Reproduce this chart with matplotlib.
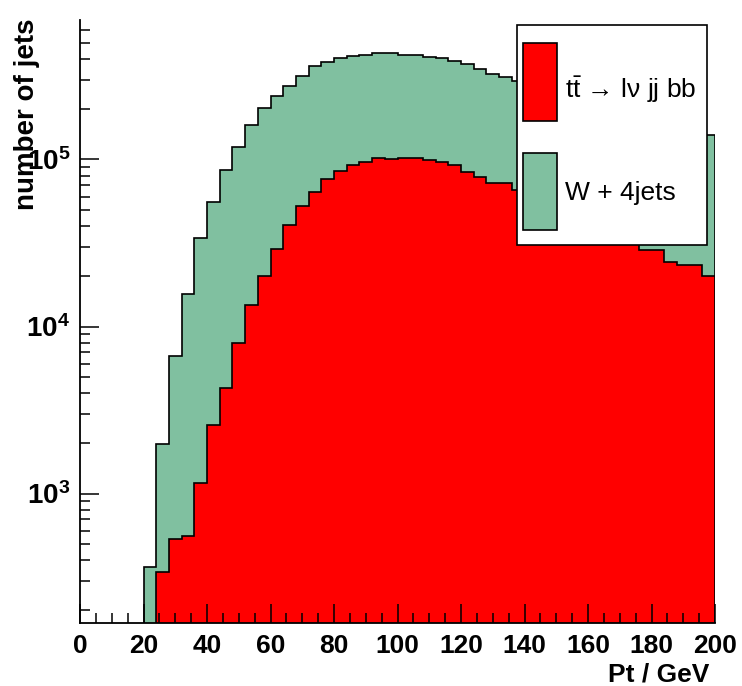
import numpy as np
import matplotlib
matplotlib.use("Agg")
import matplotlib.pyplot as plt
from matplotlib.patches import Rectangle
from matplotlib.ticker import MultipleLocator, LogLocator, FuncFormatter, NullFormatter

# histogram bins (Pt in GeV), 4 GeV wide
bin_edges = np.arange(0, 204, 4)

# t tbar -> l nu jj bb (red)
ttbar = [0, 0, 0, 0, 0, 0, 337, 534, 556, 1160,
         2570, 4270, 7930, 13500, 20100, 29100, 40500, 52900, 64300, 76800,
         85700, 92700, 96200, 101700, 100700, 102500, 102500, 99300, 96200, 92700,
         84500, 78900, 72600, 72600, 65800, 60000, 55000, 50000, 46000, 42000,
         39000, 36000, 33000, 31000, 28700, 28700, 24500, 23300, 23300, 20200]

# W + 4jets (green), stacked on top of ttbar
wjets = [0, 0, 0, 0, 0, 363, 1640, 6120, 15100, 32800,
         52800, 82200, 111000, 146500, 183000, 211000, 235500, 263000, 298700, 308200,
         318300, 324300, 327800, 330300, 331300, 320500, 320500, 313700, 307800, 296300,
         287500, 268100, 253400, 238400, 229200, 220000, 210000, 200000, 189000, 180000,
         171000, 162000, 155000, 147000, 141300, 133300, 130500, 125700, 120700, 119800]

legend_labels = ["t$\\mathrm{\\bar{t}}$ \u2192 l\u03bd jj bb", "W + 4jets"]

red = "#ff0000"
green = "#80c0a0"

plt.rcParams["font.family"] = ["Liberation Sans", "DejaVu Sans"]
plt.rcParams["mathtext.fontset"] = "custom"
plt.rcParams["mathtext.rm"] = "Liberation Sans"
plt.rcParams["mathtext.bf"] = "Liberation Sans:bold"
plt.rcParams["mathtext.it"] = "Liberation Sans:italic"

W, H = 742, 686
fig = plt.figure(figsize=(W / 100, H / 100), dpi=100)


def fx(x):
    return x / W


def fy(y):
    return 1 - y / H


ax = fig.add_axes([fx(80), fy(623), fx(715) - fx(80), fy(20) - fy(623)])

total = np.array(ttbar) + np.array(wjets)
ax.stairs(total, bin_edges, fill=True, color=green, baseline=1, zorder=1)
ax.stairs(total, bin_edges, fill=False, color="black", lw=1.2, baseline=1, zorder=1.2)
ax.stairs(ttbar, bin_edges, fill=True, color=red, baseline=1, zorder=1.4)
ax.stairs(ttbar, bin_edges, fill=False, color="black", lw=1.2, baseline=1, zorder=1.6)

ax.set_yscale("log")
ax.set_xlim(0, 200)
ax.set_ylim(168, 684000)

for s in ["top", "right"]:
    ax.spines[s].set_visible(False)
for s in ["left", "bottom"]:
    ax.spines[s].set_linewidth(1.3)

ax.xaxis.set_major_locator(MultipleLocator(20))
ax.xaxis.set_minor_locator(MultipleLocator(5))
ax.yaxis.set_major_locator(LogLocator(base=10))
ax.yaxis.set_minor_locator(LogLocator(base=10, subs=np.arange(2, 10)))
ax.yaxis.set_minor_formatter(NullFormatter())
ax.yaxis.set_major_formatter(FuncFormatter(lambda v, p: r"$\mathbf{10^{%d}}$" % round(np.log10(v))))

ax.tick_params(which="both", direction="in", width=1.1, color="black")
ax.tick_params(which="major", length=14)
ax.tick_params(which="minor", length=7)
ax.tick_params(axis="x", which="major", labelsize=19, pad=8)
ax.tick_params(axis="y", which="major", labelsize=20, pad=7)
for lab in ax.get_xticklabels():
    lab.set_fontweight("bold")

# axis titles
fig.text(fx(709), fy(681), "Pt / GeV", ha="right", va="baseline", fontsize=19, fontweight="bold")
fig.text(fx(27), fy(19), "number of jets", rotation=90, ha="center", va="top", fontsize=20, fontweight="bold")

# legend box
fig.add_artist(Rectangle((fx(517), fy(245)), fx(707) - fx(517), fy(25) - fy(245),
                         transform=fig.transFigure, facecolor="white", edgecolor="black", lw=1.2, zorder=5))
fig.add_artist(Rectangle((fx(523), fy(121)), fx(557) - fx(523), fy(43) - fy(121),
                         transform=fig.transFigure, facecolor=red, edgecolor="black", lw=1.2, zorder=6))
fig.add_artist(Rectangle((fx(523), fy(230)), fx(557) - fx(523), fy(153) - fy(230),
                         transform=fig.transFigure, facecolor=green, edgecolor="black", lw=1.2, zorder=6))
fig.text(fx(565), fy(90), legend_labels[0], ha="left", va="center", fontsize=19, zorder=7)
fig.text(fx(565), fy(193), legend_labels[1], ha="left", va="center", fontsize=19, zorder=7)

fig.savefig("out.png", dpi=100)
